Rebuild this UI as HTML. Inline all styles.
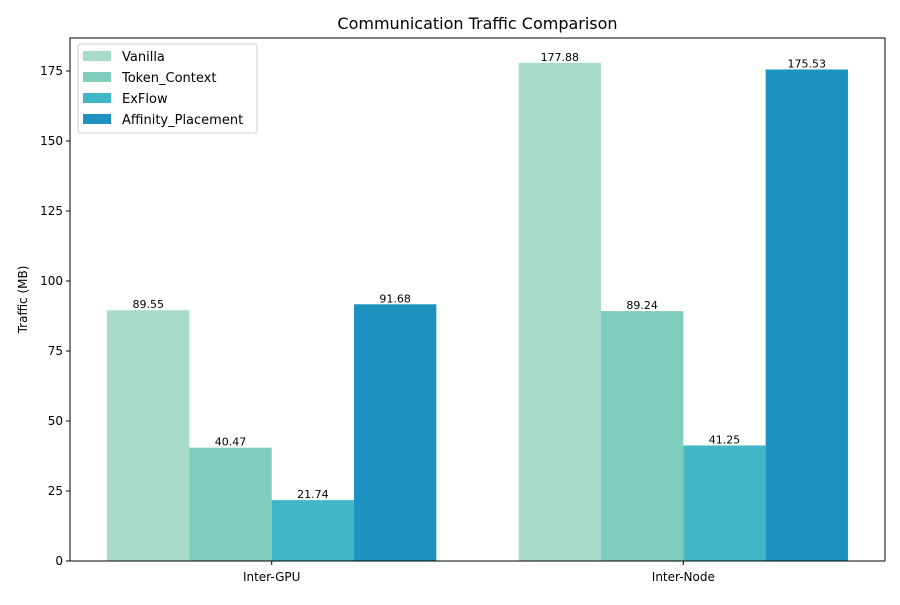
<!DOCTYPE html>
<html><head><meta charset="utf-8"><style>
body{margin:0;background:#fff;font-family:"Liberation Sans","DejaVu Sans",sans-serif;}
</style></head><body>
<svg id="chart" width="900" height="600" xmlns="http://www.w3.org/2000/svg" font-family="DejaVu Sans, Liberation Sans, sans-serif">
<rect width="900" height="600" fill="#fff"/>
</svg>
<script>
const categories = ["Inter-GPU", "Inter-Node"];
const seriesNames = ["Vanilla", "Token_Context", "ExFlow", "Affinity_Placement"];
const vanilla = [89.55, 177.88];
const tokenContext = [40.47, 89.24];
const exflow = [21.74, 41.25];
const affinity = [91.68, 175.53];
const yTicks = [0, 25, 50, 75, 100, 125, 150, 175];

const series = [vanilla, tokenContext, exflow, affinity];
const colors = ["#a6dbc9", "#7fcdbb", "#41b6c4", "#1d91c0"];
const svg = document.getElementById('chart');
const NS = "http://www.w3.org/2000/svg";
const L = 70, R = 885, T = 38, B = 561;
const allVals = series.flat();
const yMax = Math.max(...allVals) * 1.05;
const xMin = -0.49, xMax = 1.49;
const x = v => L + (v - xMin) / (xMax - xMin) * (R - L);
const y = v => B - v / yMax * (B - T);
function el(tag, attrs, parent) {
  const e = document.createElementNS(NS, tag);
  for (const k in attrs) e.setAttribute(k, attrs[k]);
  (parent || svg).appendChild(e);
  return e;
}
const bw = 0.2;
series.forEach((vals, s) => {
  vals.forEach((v, i) => {
    const cx = i + (s - 1.5) * bw;
    const r = el('rect', {x: x(cx - bw/2), y: y(v), width: x(cx + bw/2) - x(cx - bw/2), height: y(0) - y(v), fill: colors[s]});
    
    
    const t = el('text', {x: x(cx), y: y(v) - 2, 'text-anchor': 'middle', 'font-size': 11, fill: '#000'});
    t.textContent = v.toFixed(2);
    
    
  });
});
// axes frame
const frame = el('rect', {x: L, y: T, width: R - L, height: B - T, fill: 'none', stroke: '#000', 'stroke-width': 1});


yTicks.forEach(v => {
  el('line', {x1: L - 4, x2: L, y1: y(v), y2: y(v), stroke: '#000'});
  const t = el('text', {x: L - 7, y: y(v) + 4, 'text-anchor': 'end', 'font-size': 12});
  t.textContent = v;
  
  
});
categories.forEach((c, i) => {
  el('line', {x1: x(i), x2: x(i), y1: B, y2: B + 4, stroke: '#000'});
  const t = el('text', {x: x(i), y: B + 20, 'text-anchor': 'middle', 'font-size': 12});
  t.textContent = c;
  
  
});
const yt = el('text', {x: 0, y: 0, transform: 'translate(27,' + ((T + B) / 2) + ') rotate(-90)', 'text-anchor': 'middle', 'font-size': 12});
yt.textContent = 'Traffic (MB)';


const title = el('text', {x: (L + R) / 2, y: 29, 'text-anchor': 'middle', 'font-size': 16});
title.textContent = 'Communication Traffic Comparison';


// legend
const lg = el('g', {});


el('rect', {x: 78, y: 44, width: 179, height: 89, rx: 3, fill: '#fff', 'fill-opacity': 0.8, stroke: '#ccc'}, lg);
seriesNames.forEach((n, s) => {
  const yy = 56 + s * 21;
  el('rect', {x: 83, y: yy - 5, width: 28, height: 10, fill: colors[s]}, lg);
  const t = el('text', {x: 122, y: yy + 5, 'font-size': 13}, lg);
  t.textContent = n;
  
  
});
</script>
</body></html>
